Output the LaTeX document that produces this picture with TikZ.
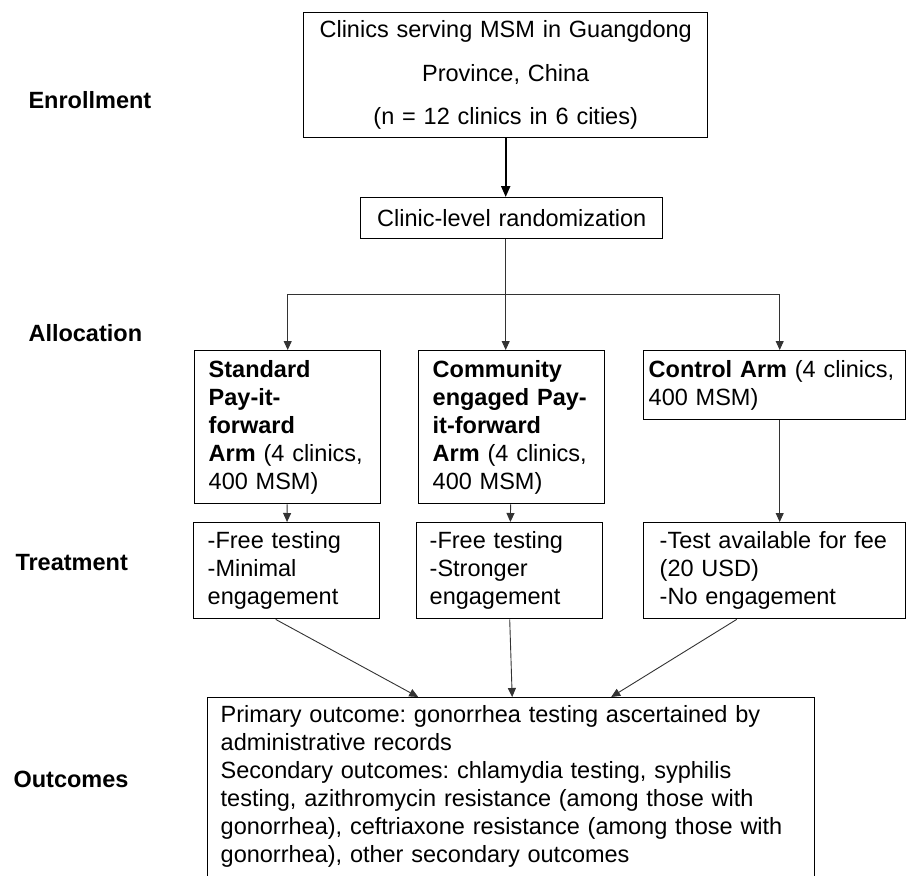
\documentclass[tikz,border=0pt]{standalone}
\usepackage{fontspec}
\setmainfont{Liberation Sans}
\frenchspacing
\usetikzlibrary{positioning, arrows.meta}

\tikzset{
    box/.style={draw, line width=1.4pt, align=left, anchor=north west, inner ysep=6pt},
    phase/.style={font=\fontsize{23.5}{28}\selectfont\bfseries, anchor=west},
    link/.style={draw=black!80, line width=0.9pt, -{Triangle[length=9pt, width=8pt]}}
}

\begin{document}
\begin{tikzpicture}[x=1pt, y=1pt, font=\fontsize{23.5}{28}\selectfont]
    \useasboundingbox (0,0) rectangle (907,-875);

    % phases
    \node [phase] (enroll) at (25,-100) {Enrollment};
    \node [phase] (alloc) at (25,-333) {Allocation};
    \node [phase] (treat) at (12,-563) {Treatment};
    \node [phase] (outc) at (10,-779) {Outcomes};

    \node [box,
        align=center,
        text width=376pt,
        inner xsep=14pt,
        minimum height=125pt
    ] (clinics) at (303,-12) {
        Clinics serving MSM in Guangdong\\[15.5pt]
        Province, China\\[15.5pt]
        (n = 12 clinics in 6 cities)
    };

    \node [box,
        align=center,
        text width=274pt,
        inner xsep=14pt,
        minimum height=41pt
    ] (random) at (360,-197) {Clinic-level randomization};

    % arms
    \node [box,
        text width=158pt,
        inner xsep=14pt,
        minimum height=153pt
    ] (standard) at (194,-350) {
        \textbf{Standard}\\
        \textbf{Pay-it-}\\
        \textbf{forward}\\
        \textbf{Arm} (4 clinics,\\
        400 MSM)
    };

    \node [box,
        text width=158pt,
        inner xsep=14pt,
        minimum height=153pt
    ] (community) at (418,-350) {
        \textbf{Community}\\
        \textbf{engaged Pay-}\\
        \textbf{it-forward}\\
        \textbf{Arm} (4 clinics,\\
        400 MSM)
    };

    \node [box,
        text width=252pt,
        inner xsep=5pt,
        minimum height=69pt
    ] (control) at (643,-350) {
        \textbf{Control Arm} (4 clinics,\\
        400 MSM)
    };

    % treatments
    \node [box,
        text width=158pt,
        inner xsep=14pt,
        minimum height=96pt
    ] (standardT) at (193,-522) {
        -Free testing\\
        -Minimal\\
        engagement
    };

    \node [box,
        text width=160pt,
        inner xsep=13pt,
        minimum height=96pt
    ] (communityT) at (416,-522) {
        -Free testing\\
        -Stronger\\
        engagement
    };

    \node [box,
        text width=230pt,
        inner xsep=16pt,
        minimum height=96pt
    ] (controlT) at (643,-522) {
        -Test available for fee\\
        (20 USD)\\
        -No engagement
    };

    % outcomes
    \node [box,
        text width=581pt,
        inner xsep=13pt,
        inner ysep=8pt
    ] (outcomes) at (207,-697) {
        Primary outcome: gonorrhea testing ascertained by\\
        administrative records\\
        Secondary outcomes: chlamydia testing, syphilis\\
        testing, azithromycin resistance (among those with\\
        gonorrhea), ceftriaxone resistance (among those with\\
        gonorrhea), other secondary outcomes\rule[-24pt]{0pt}{0pt}
    };

    % arrows %
    \draw [line width=2pt, -{Triangle[length=11pt, width=9pt]}] (clinics.south) -- (clinics.south |- random.north);
    \coordinate (split) at ([yshift=-55pt]clinics.south |- random.south);
    \draw [draw=black!80, line width=0.9pt] (clinics.south |- random.south) -- (split);
    \draw [link] (split) -| (standard.north);
    \draw [link] (split) -- (split |- community.north);
    \draw [link] (split) -| ([xshift=5pt]control.north);

    \draw [link] (standard) -- (standardT);
    \draw [link] (community) -- (communityT);
    \draw [link] ([xshift=5pt]control.south) -- ([xshift=5pt]controlT.north);

    \draw [link] ([xshift=-11pt]standardT.south) -- ([xshift=-93pt]outcomes.north);
    \draw [link] (communityT.south) -- ([xshift=1pt]outcomes.north);
    \draw [link] ([xshift=-38pt]controlT.south) -- ([xshift=100pt]outcomes.north);
\end{tikzpicture}
\end{document}
